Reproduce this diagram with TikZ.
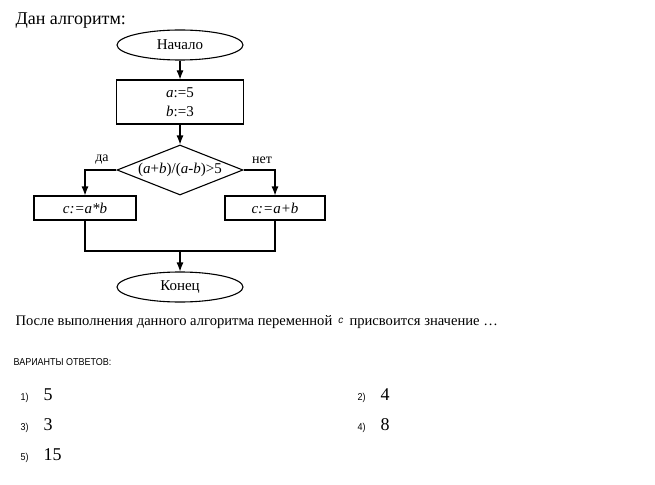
\documentclass[tikz,border=0pt]{standalone}
\usepackage{fontspec}
\setmainfont{Liberation Serif}
\setsansfont{Liberation Sans}
\newfontfamily\narrowsans[FakeStretch=0.9]{Liberation Sans}
\usepackage{tikz}
\usetikzlibrary{shapes.geometric, arrows.meta, positioning}

\begin{document}
\begin{tikzpicture}[x=1pt, y=-1pt, line width=1.1pt, >={Latex[length=9pt,width=7pt]},
		term/.style={ellipse, draw, minimum width=126pt, minimum height=30pt, inner sep=0pt, font=\fontsize{15}{17}\selectfont},
		act/.style={rectangle, draw, inner sep=0pt, font=\fontsize{15}{19}\selectfont, align=center},
		cond/.style={diamond, draw, aspect=2.5, minimum width=126pt, minimum height=50pt, inner sep=0pt, font=\fontsize{15}{17}\selectfont},
		lbl/.style={inner sep=0pt, font=\fontsize{14}{16}\selectfont},
		txt/.style={inner sep=0pt, anchor=base west},
		num/.style={inner sep=0pt, anchor=base west, font=\narrowsans\fontsize{10}{12}\selectfont},
		ans/.style={inner sep=0pt, anchor=base west, font=\fontsize{18}{20}\selectfont}]
		\useasboundingbox (0,0) rectangle (655,484);
		\fill[white] (0,0) rectangle (655,484);

		\node[txt, font=\fontsize{18}{20}\selectfont] (title) at (15,25) {Дан алгоритм:};

		\draw (180,45) node[term] (start) {Начало}
		(180,102) node[act, minimum width=127pt, minimum height=44pt] (init) {\textit{a}:=5\\\textit{b}:=3}
		(180,170) node[cond] (test) {(\textit{a}+\textit{b})/(\textit{a}-\textit{b})>5}
		(85,208) node[act, minimum width=102pt, minimum height=24pt] (yes) {\textit{c:=a*b}}
		(275,208) node[act, minimum width=100pt, minimum height=24pt] (no) {\textit{c:=a+b}}
		(180,287) node[term] (finish) {Конец};
		\coordinate (join) at (180,251);

		\node[lbl] (yeslbl) at (102,160) {да};
		\node[lbl] (nolbl) at (262,160) {нет};

		\draw[->] (start) -- (init);
		\draw[->] (init) -- (test);
		\draw[->] (test.west) -| (yes);
		\draw[->] (test.east) -| (no);
		\draw (yes) |- (join) -| (no);
		\draw[->] (join) -- (finish);

		\node[txt, font=\fontsize{14.6}{17}\selectfont] (question) at (15,325) {После выполнения данного алгоритма переменной \,{\sffamily\itshape\fontsize{10}{11}\selectfont\raisebox{2pt}{c}}\, присвоится значение \dots};
		\node[txt, font=\narrowsans\fontsize{10}{12}\selectfont] (answers) at (13,365) {ВАРИАНТЫ ОТВЕТОВ:};

		\node[num] (n1) at (20,400) {1)};
		\node[ans] (a1) at (43,400) {5};
		\node[num] (n2) at (357,400) {2)};
		\node[ans] (a2) at (380,400) {4};
		\node[num] (n3) at (20,430) {3)};
		\node[ans] (a3) at (43,430) {3};
		\node[num] (n4) at (357,430) {4)};
		\node[ans] (a4) at (380,430) {8};
		\node[num] (n5) at (20,460) {5)};
		\node[ans] (a5) at (43,460) {15};
	\end{tikzpicture}
\end{document}
